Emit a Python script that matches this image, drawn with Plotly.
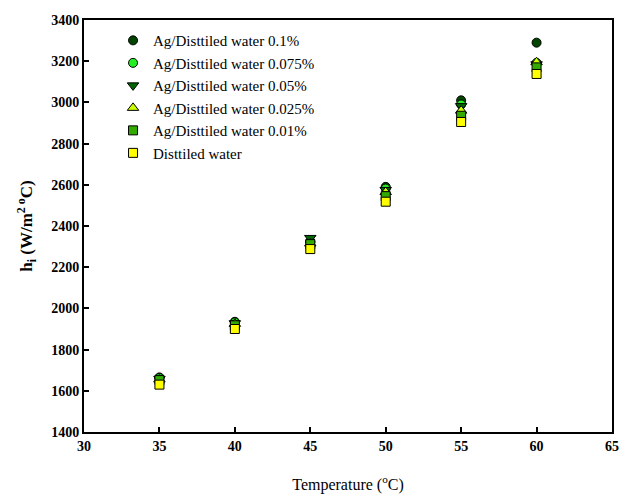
import plotly.graph_objects as go

temps = [35, 40, 45, 50, 55, 60]
h_01 = [1665, 1935, 2325, 2590, 3010, 3290]
h_0075 = [1662, 1932, 2322, 2582, 2990, 3192]
h_005 = [1658, 1928, 2342, 2575, 2982, 3185]
h_0025 = [1655, 1925, 2315, 2565, 2960, 3195]
h_001 = [1652, 1918, 2312, 2545, 2935, 3170]
h_water = [1630, 1900, 2288, 2518, 2905, 3138]

names = ["Ag/Disttiled water 0.1%", "Ag/Disttiled water 0.075%", "Ag/Disttiled water 0.05%",
         "Ag/Disttiled water 0.025%", "Ag/Disttiled water 0.01%", "Disttiled water"]
series = [h_01, h_0075, h_005, h_0025, h_001, h_water]
symbols = ["circle", "circle", "triangle-down", "triangle-up", "square", "square"]
colors = ["#004400", "#22ee22", "#006600", "#ccff00", "#33aa00", "#ffff00"]
sizes = [9, 9, 10, 10, 9, 9]

fig = go.Figure()
for n, s, sym, c, sz in zip(names, series, symbols, colors, sizes):
    fig.add_trace(go.Scatter(x=temps, y=s, mode="markers", name=n,
                             marker=dict(symbol=sym, color=c, size=sz,
                                         line=dict(color="black", width=1))))

font_family = "Liberation Serif"
fig.update_layout(
    width=622, height=495,
    margin=dict(l=84, r=10, t=20, b=63),
    paper_bgcolor="white", plot_bgcolor="white",
    font=dict(family=font_family, color="black"),
    showlegend=True,
    legend=dict(x=0.055, y=0.99, xanchor="left", yanchor="top",
                bgcolor="rgba(0,0,0,0)", font=dict(size=15, family=font_family),
                tracegroupgap=0, itemsizing="trace"),
    xaxis=dict(range=[30, 65], tickvals=[30, 35, 40, 45, 50, 55, 60, 65],
               ticks="inside", ticklen=5, tickwidth=1.5, tickcolor="black",
               showline=True, linecolor="black", linewidth=2, mirror=True,
               showgrid=False, zeroline=False, automargin=False,
               tickfont=dict(size=14, family=font_family, weight="bold"),
               title=dict(text="Temperature (<sup>o</sup>C)", font=dict(size=16, family=font_family),
                          standoff=26)),
    yaxis=dict(range=[1400, 3400], tickvals=list(range(1400, 3401, 200)),
               ticks="inside", ticklen=5, tickwidth=1.5, tickcolor="black",
               showline=True, linecolor="black", linewidth=2, mirror=True,
               showgrid=False, zeroline=False, automargin=False,
               tickfont=dict(size=14, family=font_family, weight="bold"),
               title=dict(text="h<sub>i</sub> (W/m<sup>2 o</sup>C)",
                          font=dict(size=17, family=font_family, weight="bold"),
                          standoff=14)),
)

fig.write_html("out.html")
